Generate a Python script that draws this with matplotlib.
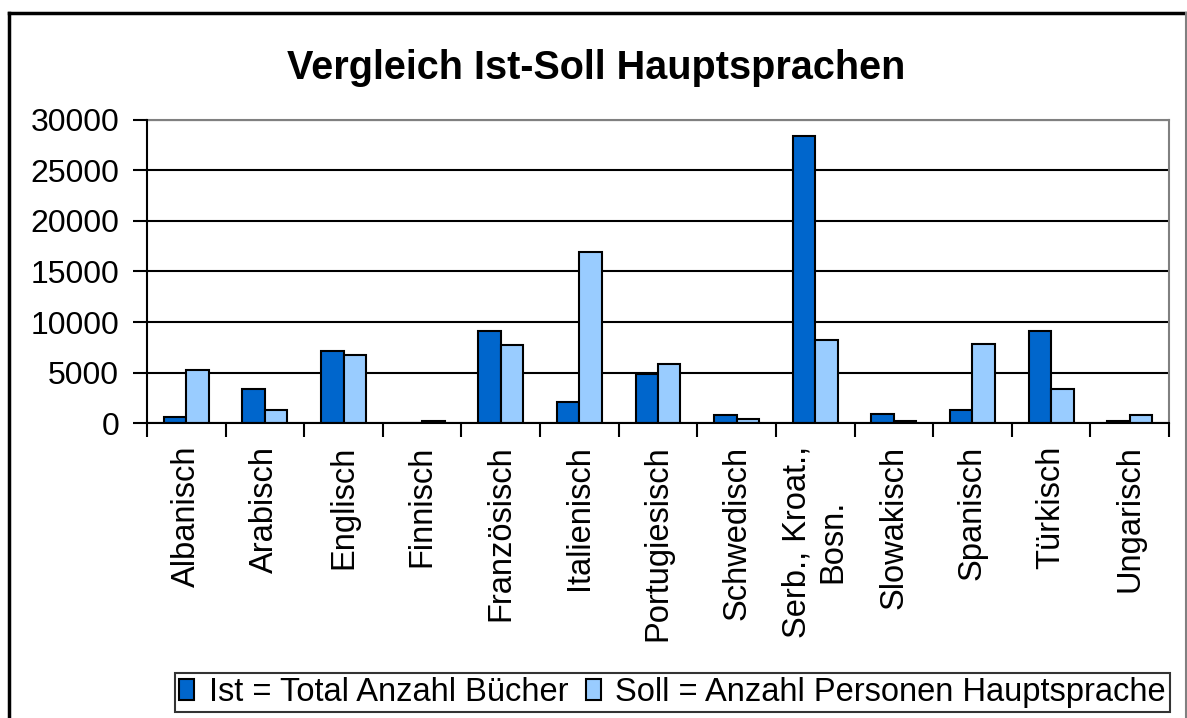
import matplotlib.pyplot as plt
import numpy as np
from matplotlib.lines import Line2D

plt.rcParams['font.family'] = ['Liberation Sans', 'DejaVu Sans']

sprachen = ['Albanisch', 'Arabisch', 'Englisch', 'Finnisch', 'Französisch',
            'Italienisch', 'Portugiesisch', 'Schwedisch', 'Serb., Kroat.,\nBosn.',
            'Slowakisch', 'Spanisch', 'Türkisch', 'Ungarisch']
ist = [600, 3350, 7100, 0, 9100, 2150, 4900, 800, 28400, 950, 1350, 9100, 200]
soll = [5300, 1350, 6700, 200, 7700, 16950, 5900, 380, 8250, 200, 7850, 3350, 800]

W, H = 1187, 718
fig = plt.figure(figsize=(W / 100, H / 100), dpi=100)
ax = fig.add_axes([147 / W, 1 - 423.3 / H, (1169 - 147) / W, (423.3 - 119.5) / H])

x = np.arange(len(sprachen))
bw = 1 / 3.5
ax.bar(x - bw / 2, ist, bw, color='#0066CC', edgecolor='black', linewidth=1.5,
       label='Ist = Total Anzahl Bücher', zorder=3)
ax.bar(x + bw / 2, soll, bw, color='#99CCFF', edgecolor='black', linewidth=1.5,
       label='Soll = Anzahl Personen Hauptsprache', zorder=3)

ax.set_xlim(-0.5, len(sprachen) - 0.5)
ax.set_ylim(0, 30000)
ax.set_yticks(np.arange(0, 30001, 5000))
ax.yaxis.grid(True, color='black', linewidth=1.5, zorder=0)
ax.tick_params(axis='y', labelsize=23, length=10, width=1.5, pad=10, direction='out')

ax.set_xticks(x)
ax.set_xticklabels(sprachen, rotation=90, ha='center', va='top', multialignment='center')
ax.set_xticks(np.arange(-0.5, len(sprachen), 1), minor=True)
ax.tick_params(axis='x', which='major', length=0, labelsize=23.5, pad=16)
ax.tick_params(axis='x', which='minor', length=10, width=1.5, direction='out')

for s in ['left', 'bottom']:
    ax.spines[s].set_color('black')
    ax.spines[s].set_linewidth(1.5)
for s in ['top', 'right']:
    ax.spines[s].set_color('#808080')
    ax.spines[s].set_linewidth(1.5)
ax.spines['left'].set_zorder(4)
ax.spines['bottom'].set_zorder(4)

fig.text(0.502, 1 - 68 / H, 'Vergleich Ist-Soll Hauptsprachen', fontsize=28.5,
         fontweight='bold', ha='center', va='center')

leg = fig.legend(loc='lower right', bbox_to_anchor=(1170 / W, 1 - 712 / H), ncol=2,
                 fontsize=23.5, frameon=True, fancybox=False, edgecolor='black',
                 handlelength=0.45, handleheight=0.6, handletextpad=0.45,
                 columnspacing=0.55, borderpad=0.12, borderaxespad=0)
leg.get_frame().set_linewidth(1.5)

# Rahmen um das ganze Diagramm
fig.add_artist(Line2D([9 / W, 9 / W], [0, 1 - 13 / H], color='black', linewidth=2.5))
fig.add_artist(Line2D([9 / W, 1186 / W], [1 - 13 / H, 1 - 13 / H], color='black', linewidth=2.5))
fig.add_artist(Line2D([1186 / W, 1186 / W], [0, 1 - 13 / H], color='#808080', linewidth=1.5))

fig.savefig('out.png', dpi=100)
